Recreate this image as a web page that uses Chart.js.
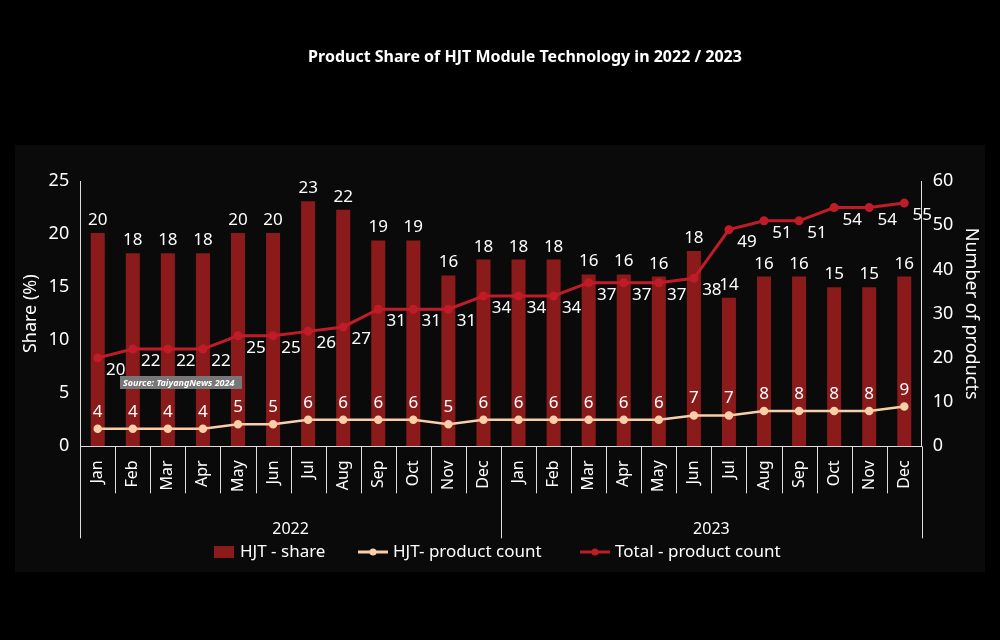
<!DOCTYPE html>
<html><head><meta charset="utf-8">
<script src="https://cdn.jsdelivr.net/npm/chart.js@4"></script>
<style>html,body{margin:0;background:#000}#wrap{width:1000px;height:640px}</style>
</head><body><div id="wrap"><canvas id="chart"></canvas></div>
<script>
const months = ['Jan','Feb','Mar','Apr','May','Jun','Jul','Aug','Sep','Oct','Nov','Dec','Jan','Feb','Mar','Apr','May','Jun','Jul','Aug','Sep','Oct','Nov','Dec'];
const years = ['2022', '2023'];
const hjtShare = [20.1,18.2,18.2,18.2,20.1,20.1,23.1,22.3,19.4,19.4,16.1,17.6,17.6,17.6,16.2,16.2,16.0,18.4,14.0,16.0,16.0,15.0,15.0,16.0];
const hjtCount = [4,4,4,4,5,5,6,6,6,6,5,6,6,6,6,6,6,7,7,8,8,8,8,9];
const totalCount = [20,22,22,22,25,25,26,27,31,31,31,34,34,34,37,37,37,38,49,51,51,54,54,55];

const font = '"Noto Sans", sans-serif';

const decor = {
  id: 'decor',
  beforeDraw(c) {
    const g = c.ctx;
    g.save();
    g.fillStyle = '#000'; g.fillRect(0, 0, c.width, c.height);
    g.fillStyle = '#0a0a0a'; g.fillRect(15, 145, 970, 427);
    g.fillStyle = '#fff'; g.font = 'bold 16px ' + font; g.textAlign = 'center';
    g.fillText('Product Share of HJT Module Technology in 2022 / 2023', 525, 62);
    g.restore();
  },
  afterDraw(c) {
    const g = c.ctx, x = c.scales.x, a = c.chartArea;
    g.save();
    g.strokeStyle = '#ddd'; g.lineWidth = 1;
    const step = x.getPixelForValue(1) - x.getPixelForValue(0);
    for (let i = 0; i <= months.length; i++) {
      const px = Math.round(x.getPixelForValue(i) - step / 2) + 0.5;
      const end = (i % 12 === 0) ? a.bottom + 92 : a.bottom + 47;
      g.beginPath(); g.moveTo(px, a.bottom); g.lineTo(px, end); g.stroke();
    }
    g.fillStyle = '#fff'; g.font = '16px ' + font; g.textAlign = 'center';
    years.forEach((y, k) => {
      const cx = (x.getPixelForValue(k * 12) + x.getPixelForValue(k * 12 + 11)) / 2;
      g.fillText(y, cx, a.bottom + 88);
    });
    // value labels
    g.font = '17px ' + font;
    const m0 = c.getDatasetMeta(0), m1 = c.getDatasetMeta(1), m2 = c.getDatasetMeta(2);
    m0.data.forEach((b, i) => g.fillText(Math.round(hjtShare[i]), b.x, b.y - 8));
    m1.data.forEach((p, i) => g.fillText(hjtCount[i], p.x, p.y - 12));
    m2.data.forEach((p, i) => g.fillText(totalCount[i], p.x + 18, p.y + 17));
    // legend
    const items = [['bar', '#8b1a1a', 'HJT - share', 214], ['line', '#f8cfa8', 'HJT- product count', 358], ['line', '#c01c28', 'Total - product count', 580]];
    g.font = '17px ' + font; g.textAlign = 'left'; g.textBaseline = 'middle';
    const ly = 552;
    items.forEach(([t, col, txt, lx]) => {
      if (t === 'bar') { g.fillStyle = col; g.fillRect(lx, ly - 6, 20, 12); g.fillStyle = '#fff'; g.fillText(txt, lx + 26, ly); }
      else {
        g.strokeStyle = col; g.lineWidth = 3; g.beginPath(); g.moveTo(lx, ly); g.lineTo(lx + 30, ly); g.stroke();
        g.fillStyle = col; g.beginPath(); g.arc(lx + 15, ly, 3.5, 0, Math.PI * 2); g.fill();
        g.fillStyle = '#fff'; g.fillText(txt, lx + 35, ly);
      }
    });
    // source tag
    g.textBaseline = 'alphabetic';
    g.fillStyle = '#777'; g.fillRect(120, 376, 122, 13);
    g.fillStyle = '#fff'; g.font = 'italic bold 9px ' + font;
    g.fillText('Source: TaiyangNews 2024', 123, 386);
    g.restore();
  }
};

new Chart(document.getElementById('chart'), {
  data: {
    labels: months,
    datasets: [
      { type: 'bar', label: 'HJT - share', data: hjtShare, backgroundColor: '#8b1a1a', yAxisID: 'y', barPercentage: 0.4, categoryPercentage: 1, order: 3 },
      { type: 'line', label: 'HJT- product count', data: hjtCount, borderColor: '#f8cfa8', backgroundColor: '#f8cfa8', borderWidth: 2.5, pointRadius: 3, yAxisID: 'y1', tension: 0, order: 1 },
      { type: 'line', label: 'Total - product count', data: totalCount, borderColor: '#c01c28', backgroundColor: '#c01c28', borderWidth: 3, pointRadius: 3, yAxisID: 'y1', tension: 0, order: 2 }
    ]
  },
  options: {
    responsive: true, maintainAspectRatio: false, animation: false,
    layout: { padding: { top: 181, left: 16, right: 14, bottom: 142 } },
    plugins: { legend: { display: false }, tooltip: { enabled: false } },
    scales: {
      x: { grid: { display: false }, border: { color: '#ddd' }, ticks: { color: '#fff', font: { family: font, size: 16 }, maxRotation: 90, minRotation: 90, padding: 6 } },
      y: { position: 'left', min: 0, max: 25, ticks: { stepSize: 5, color: '#fff', font: { family: font, size: 18 } }, grid: { display: false }, border: { color: '#ddd' },
           title: { display: true, text: 'Share (%)', color: '#fff', font: { family: font, size: 18 } } },
      y1: { position: 'right', min: 0, max: 60, ticks: { stepSize: 10, color: '#fff', font: { family: font, size: 18 } }, grid: { display: false }, border: { color: '#ddd' },
           title: { display: true, text: 'Number of products', color: '#fff', font: { family: font, size: 18 } } }
    }
  },
  plugins: [decor]
});
</script></body></html>
